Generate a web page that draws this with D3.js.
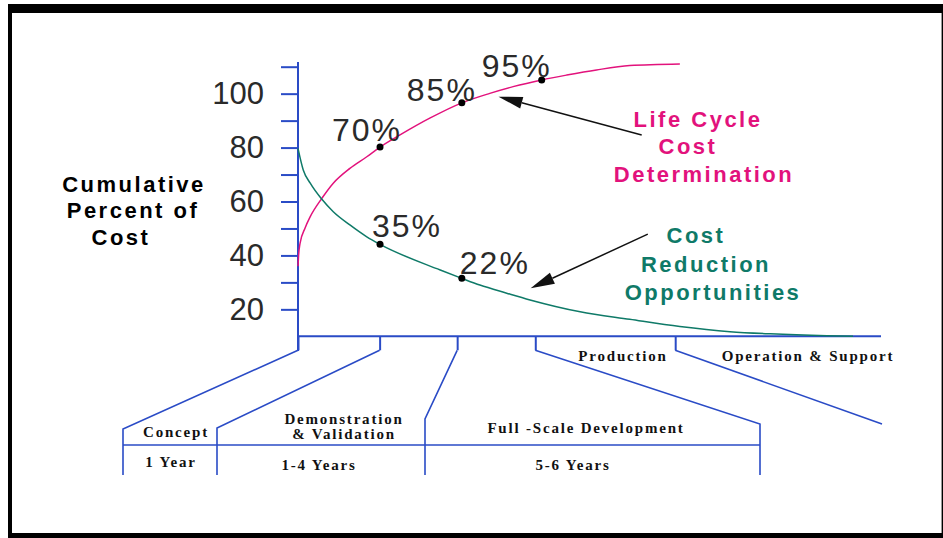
<!doctype html>
<html lang="en">
<head>
<meta charset="utf-8">
<style>
  body { margin: 0; background: #fff; }
  svg text { font-family: "Liberation Sans", Arial, sans-serif; }
  .num { font-size: 31px; fill: #2a2a2a; }
  .pct { font-size: 32px; fill: #2a2a2a; letter-spacing: 2px; }
  .ttl { font-size: 22px; font-weight: bold; letter-spacing: 2.5px; }
  .phase { font-family: "Liberation Serif", serif !important; font-size: 15px; font-weight: bold; letter-spacing: 1.8px; fill: #111; }
</style>
</head>
<body>
<script src="https://d3js.org/d3.v7.min.js"></script>
<div id="chart"></div>
<script>
// phase boundaries along the life cycle (x units 0-100)
var phaseX = [0, 14.0, 27.3, 40.7, 64.7];

// life cycle cost determination (pink)
var lccX = [0, 0.1, 0.35, 1.2, 2.1, 4.1, 6.05, 8.9, 11.8, 14.07, 17.5, 22.6, 28.1, 32.9, 36.9, 41.8, 46.1, 51.2, 56.9, 65.5];
var lccY = [36, 40, 44.5, 50.1, 54.4, 61.2, 66.8, 72.3, 76.6, 80.2, 84.7, 90.9, 96.6, 100.1, 102.6, 105.1, 106.9, 108.8, 110.4, 111];
var lccMarkX = [14.07, 28.1, 41.8];
var lccMarkY = [80.2, 96.6, 105.1];
var lccMarkLabel = ["70%", "85%", "95%"];

// cost reduction opportunities (teal)
var crX = [0, 0.9, 2.1, 4.1, 6.05, 8.9, 11.8, 14.07, 24.4, 28.1, 31.2, 35.8, 39.8, 48.4, 56.9, 65.5, 74.1, 81, 90.7, 95.2];
var crY = [79.7, 71.7, 66.8, 60.8, 56.2, 51.3, 46.9, 44.1, 34.6, 31.5, 29, 26, 23.5, 19.1, 16.3, 13.6, 11.7, 10.9, 10.2, 10];
var crMarkX = [14.07, 28.1];
var crMarkY = [44.1, 31.5];
var crMarkLabel = ["35%", "22%"];

var yTicks = [20, 30, 40, 50, 60, 70, 80, 90, 100, 110];
var yLabels = [20, 40, 60, 80, 100];

var phaseTop = ["Production", "Operation & Support"];
var phaseBottom = ["Concept", "Demonstration", "& Validation", "Full -Scale Development"];
var phaseYears = ["1 Year", "1-4 Years", "5-6 Years"];

var pink = "#e2127c", teal = "#0f7a68", blue = "#2a4bc6";

var width = 943, height = 538;
var svg = d3.select("#chart").append("svg")
            .attr("width", width).attr("height", height);

// frame
svg.append("rect").attr("x", 8).attr("y", 4).attr("width", 935).attr("height", 534).attr("fill", "#000");
svg.append("rect").attr("x", 12).attr("y", 13).attr("width", 929).attr("height", 520).attr("fill", "#fff");
svg.append("line").attr("x1", 941.5).attr("x2", 941.5).attr("y1", 13).attr("y2", 533).attr("stroke", "#999");

var x = d3.scaleLinear().domain([0, 100]).range([298, 881]);
var y = d3.scaleLinear().domain([10, 110]).range([336.3, 66.7]);

// y axis
var yAxis = svg.append("g").attr("transform", "translate(298,0)")
   .call(d3.axisLeft(y).tickValues(yTicks).tickSize(17).tickSizeOuter(0).tickPadding(17)
          .tickFormat(function(d){ return yLabels.indexOf(d) >= 0 ? d : ""; }));
yAxis.select(".domain").remove();
yAxis.selectAll("line").attr("stroke", blue).attr("stroke-width", 2);
yAxis.selectAll("text").attr("class", "num").attr("font-family", null).attr("font-size", null);

svg.append("line").attr("x1", 298).attr("x2", 298).attr("y1", 62).attr("y2", 351)
   .attr("stroke", blue).attr("stroke-width", 2);

// x axis with phase ticks
var xAxis = svg.append("g").attr("transform", "translate(0," + y(10) + ")")
   .call(d3.axisBottom(x).tickValues(phaseX).tickSize(14).tickSizeOuter(0).tickFormat(""));
xAxis.select(".domain").remove();
xAxis.selectAll("line").attr("stroke", blue).attr("stroke-width", 2);
svg.append("line").attr("x1", 297).attr("x2", x(100)).attr("y1", y(10)).attr("y2", y(10))
   .attr("stroke", blue).attr("stroke-width", 2);

// connectors from phase ticks to the table below
var tableX = [123, 217, 425, 760, 882];
var tableY = [429, 428, 419, 424, 424];
var tickBottom = y(10) + 14;
phaseX.forEach(function(p, i) {
  var pts = [[x(p), tickBottom], [tableX[i], tableY[i]]];
  if (i < 4) pts.push([tableX[i], 475]);
  svg.append("path").attr("d", d3.line()(pts))
     .attr("fill", "none").attr("stroke", blue).attr("stroke-width", 1.6);
});
svg.append("line").attr("x1", 123).attr("x2", 760).attr("y1", 445).attr("y2", 445)
   .attr("stroke", blue).attr("stroke-width", 1.6);

// phase text
var ph = svg.append("g");
ph.append("text").attr("class", "phase").attr("x", 623).attr("y", 361).attr("text-anchor", "middle").text(phaseTop[0]);
ph.append("text").attr("class", "phase").attr("x", 808).attr("y", 361).attr("text-anchor", "middle").text(phaseTop[1]);
ph.append("text").attr("class", "phase").attr("x", 176).attr("y", 437).attr("text-anchor", "middle").text(phaseBottom[0]);
ph.append("text").attr("class", "phase").attr("x", 344).attr("y", 424).attr("text-anchor", "middle").text(phaseBottom[1]);
ph.append("text").attr("class", "phase").attr("x", 344).attr("y", 439).attr("text-anchor", "middle").text(phaseBottom[2]);
ph.append("text").attr("class", "phase").attr("x", 586).attr("y", 433).attr("text-anchor", "middle").text(phaseBottom[3]);
ph.append("text").attr("class", "phase").attr("x", 171).attr("y", 467).attr("text-anchor", "middle").text(phaseYears[0]);
ph.append("text").attr("class", "phase").attr("x", 319).attr("y", 470).attr("text-anchor", "middle").text(phaseYears[1]);
ph.append("text").attr("class", "phase").attr("x", 573).attr("y", 470).attr("text-anchor", "middle").text(phaseYears[2]);

// curves
var line = d3.line().x(function(d){ return x(d[0]); }).y(function(d){ return y(d[1]); })
             .curve(d3.curveMonotoneX);
svg.append("path").datum(d3.zip(lccX, lccY)).attr("d", line)
   .attr("fill", "none").attr("stroke", pink).attr("stroke-width", 1.5);
svg.append("path").datum(d3.zip(crX, crY)).attr("d", line)
   .attr("fill", "none").attr("stroke", teal).attr("stroke-width", 1.5);

// marked points + labels
var lccOff = [[-48, -6], [-55, -2], [-60, -3]];
var crOff = [[-8, -7], [-2, -4]];
function marks(mx, my, lab, off) {
  mx.forEach(function(v, i) {
    svg.append("circle").attr("cx", x(v)).attr("cy", y(my[i])).attr("r", 3.5).attr("fill", "#000");
    svg.append("text").attr("class", "pct").attr("x", x(v) + off[i][0]).attr("y", y(my[i]) + off[i][1]).text(lab[i]);
  });
}
marks(lccMarkX, lccMarkY, lccMarkLabel, lccOff);
marks(crMarkX, crMarkY, crMarkLabel, crOff);

// arrows (tail -> tip, data coords)
function arrow(x0, y0, x1, y1) {
  var ax = x(x0), ay = y(y0), bx = x(x1), by = y(y1);
  var ang = Math.atan2(by - ay, bx - ax), L = 24, W = 6;
  var cx = bx - L * Math.cos(ang), cy = by - L * Math.sin(ang);
  svg.append("line").attr("x1", ax).attr("y1", ay).attr("x2", cx).attr("y2", cy)
     .attr("stroke", "#111").attr("stroke-width", 1.5);
  var p = [[bx, by], [cx + W * Math.sin(ang), cy - W * Math.cos(ang)], [cx - W * Math.sin(ang), cy + W * Math.cos(ang)]];
  svg.append("path").attr("d", d3.line()(p) + "Z").attr("fill", "#111");
}
arrow(58.95, 84.7, 34.4, 98.9);
arrow(60.0, 47.9, 39.9, 27.8);

// titles
function lines(arr, color) {
  arr.forEach(function(t) {
    svg.append("text").attr("class", "ttl").attr("x", t[1]).attr("y", t[2])
       .attr("text-anchor", "middle").attr("fill", color).text(t[0]);
  });
}
lines([["Cumulative", 134, 192], ["Percent of", 133, 218], ["Cost", 121, 245]], "#000");
lines([["Life Cycle", 698, 127], ["Cost", 688, 154], ["Determination", 704, 182]], pink);
lines([["Cost", 696, 243], ["Reduction", 706, 272], ["Opportunities", 713, 300]], teal);
</script>
</body>
</html>
